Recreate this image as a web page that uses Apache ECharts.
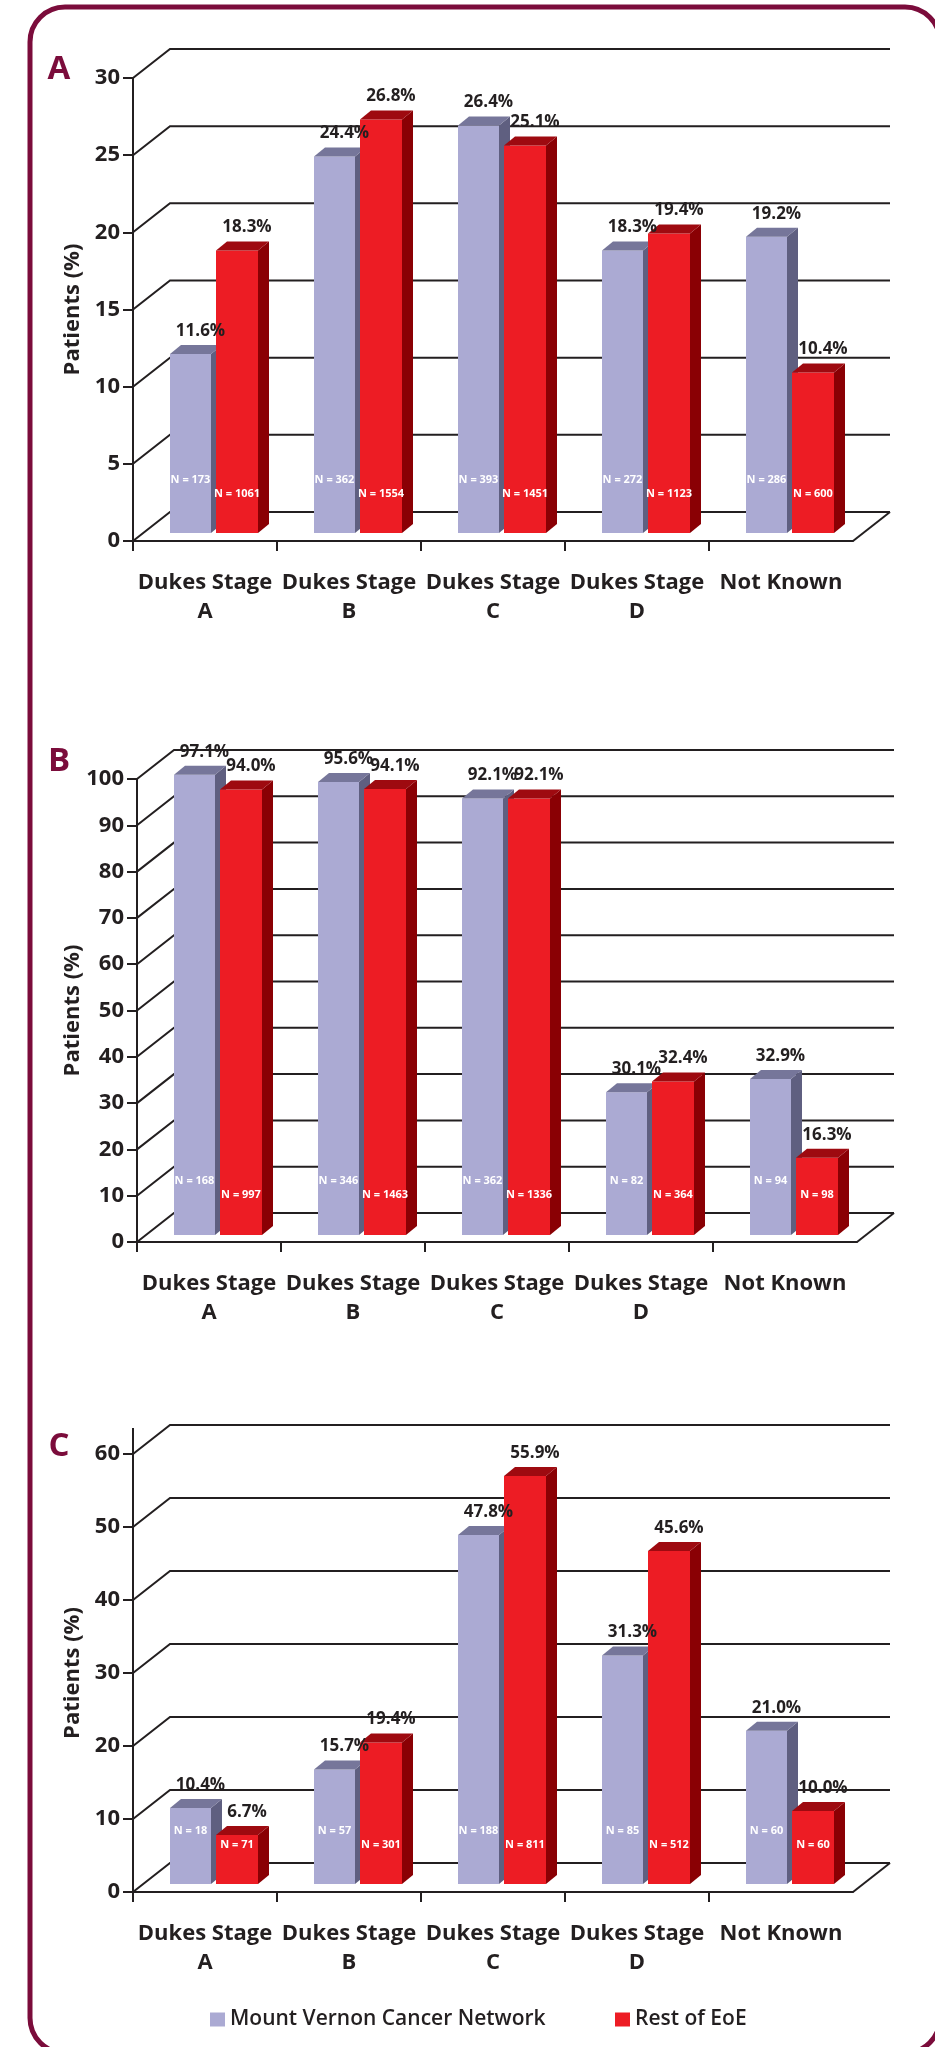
<!DOCTYPE html>
<html>
<head>
<meta charset="utf-8">
<script src="https://cdn.jsdelivr.net/npm/echarts@6/dist/echarts.min.js"></script>
<style>
  html, body { margin: 0; padding: 0; background: #fff; }
  #chart { width: 935px; height: 2047px; }
</style>
</head>
<body>
<div id="chart"></div>
<script>
const categories = ['Dukes Stage\nA', 'Dukes Stage\nB', 'Dukes Stage\nC', 'Dukes Stage\nD', 'Not Known'];
const nameMvcn = 'Mount Vernon Cancer Network';
const nameEoe = 'Rest of EoE';

// panel A
const ticksA = [0, 5, 10, 15, 20, 25, 30];
const mvcnA = [11.6, 24.4, 26.4, 18.3, 19.2];
const eoeA = [18.3, 26.8, 25.1, 19.4, 10.4];
const mvcnNA = [173, 362, 393, 272, 286];
const eoeNA = [1061, 1554, 1451, 1123, 600];

// panel B
const ticksB = [0, 10, 20, 30, 40, 50, 60, 70, 80, 90, 100];
const mvcnB = [97.1, 95.6, 92.1, 30.1, 32.9];
const eoeB = [94.0, 94.1, 92.1, 32.4, 16.3];
const mvcnNB = [168, 346, 362, 82, 94];
const eoeNB = [997, 1463, 1336, 364, 98];

// panel C
const ticksC = [0, 10, 20, 30, 40, 50, 60];
const mvcnC = [10.4, 15.7, 47.8, 31.3, 21.0];
const eoeC = [6.7, 19.4, 55.9, 45.6, 10.0];
const mvcnNC = [18, 57, 188, 85, 60];
const eoeNC = [71, 301, 811, 512, 60];

const INK = '#231f20';
const MAROON = '#7b0c3b';
const FONT = '"Open Sans"';
const DX = 37, DY = 29;      // depth of the back wall
const BDX = 11, BDY = 9;     // depth of a bar

const panels = [
  { letter: 'A', ticks: ticksA, mvcn: mvcnA, eoe: eoeA, nM: mvcnNA, nE: eoeNA,
    left: 133, top: 78, zero: 541, barMax: 30, lift: 8, ext: 0, ly: 70, gap: 49 },
  { letter: 'B', ticks: ticksB, mvcn: mvcnB, eoe: eoeB, nM: mvcnNB, nE: eoeNB,
    left: 137, top: 779, zero: 1242, barMax: 97.7, lift: 7, ext: 0, ly: 762, gap: 53 },
  { letter: 'C', ticks: ticksC, mvcn: mvcnC, eoe: eoeC, nM: mvcnNC, nE: eoeNC,
    left: 133, top: 1454, zero: 1892, barMax: 60, lift: 8, ext: 26, ly: 1447, gap: 49 }
];

const lineStyle = { fill: 'none', stroke: INK, lineWidth: 2 };

function wallRender(p) {
  return function (params, api) {
    const v = api.value(1);
    const bw = api.size([1, 0])[0];
    const a = api.coord([0, v]);
    const b = api.coord([categories.length - 1, v]);
    const xl = a[0] - bw / 2, xr = b[0] + bw / 2, y = a[1];
    const kids = [{
      type: 'polyline',
      shape: { points: [[xl, y], [xl + DX, y - DY], [xr + DX, y - DY]] },
      style: lineStyle
    }];
    if (v === 0) {
      kids.push({ type: 'line', shape: { x1: xr, y1: y, x2: xr + DX, y2: y - DY }, style: lineStyle });
      for (let k = 0; k < categories.length; k++) {
        const x = xl + k * bw;
        kids.push({ type: 'line', shape: { x1: x, y1: y, x2: x, y2: y + 10 }, style: lineStyle });
      }
    }
    if (v === p.ticks[p.ticks.length - 1] && p.ext) {
      kids.push({ type: 'line', shape: { x1: xl, y1: y, x2: xl, y2: y - p.ext }, style: lineStyle });
    }
    return { type: 'group', children: kids };
  };
}

// geometry of one bar, shared by the bar and its label series
function barBox(p, api, offset, width) {
  const cat = api.value(0), v = api.value(1);
  const bw = api.size([1, 0])[0];
  const base = api.coord([cat, 0]);
  const tp = api.coord([cat, v]);
  const x0 = base[0] - bw / 2 + offset;
  return { cat: cat, v: v, x0: x0, x1: x0 + width, yb: base[1] - p.lift, yt: tp[1] - p.lift, zero: base[1] };
}

function barRender(p, offset, width, face, side, cap) {
  return function (params, api) {
    const b = barBox(p, api, offset, width);
    return {
      type: 'group',
      children: [
        { type: 'rect', shape: { x: b.x0, y: b.yt, width: width, height: b.yb - b.yt }, style: { fill: face } },
        { type: 'polygon', shape: { points: [[b.x1, b.yt], [b.x1 + BDX, b.yt - BDY], [b.x1 + BDX, b.yb - BDY], [b.x1, b.yb]] }, style: { fill: side } },
        { type: 'polygon', shape: { points: [[b.x0, b.yt], [b.x0 + BDX, b.yt - BDY], [b.x1 + BDX, b.yt - BDY], [b.x1, b.yt]] }, style: { fill: cap } }
      ]
    };
  };
}

function labelRender(p, offset, width, nLift, nums) {
  return function (params, api) {
    const b = barBox(p, api, offset, width);
    return {
      type: 'group',
      children: [
        { type: 'text', x: b.x0 + width / 2, y: b.zero - nLift,
          style: { text: 'N = ' + nums[b.cat], fill: '#fff', font: 'bold 11px ' + FONT, align: 'center', verticalAlign: 'middle' } },
        { type: 'text', x: b.x0 + width / 2 + 10, y: b.yt - BDY - 14,
          style: { text: b.v.toFixed(1) + '%', fill: INK, font: 'bold 17px ' + FONT, align: 'center', verticalAlign: 'middle' } }
      ]
    };
  };
}

const grid = [], xAxis = [], yAxis = [], series = [], graphic = [];

panels.forEach(function (p, i) {
  const max = p.ticks[p.ticks.length - 1];
  grid.push({ left: p.left, top: p.top, width: 720, height: p.zero - p.top });
  xAxis.push({
    type: 'category', gridIndex: i, data: categories,
    axisLine: { lineStyle: { color: INK, width: 2 } },
    axisTick: { show: false },
    axisLabel: { color: INK, fontFamily: FONT, fontWeight: 'bold', fontSize: 22, lineHeight: 29, margin: 27, interval: 0 }
  });
  yAxis.push({
    type: 'value', gridIndex: i, min: 0, max: max, interval: p.ticks[1] - p.ticks[0],
    name: 'Patients (%)', nameLocation: 'middle', nameRotate: 90, nameGap: p.gap, nameMoveOverlap: false,
    nameTextStyle: { color: INK, fontFamily: FONT, fontWeight: 'bold', fontSize: 22 },
    axisLine: { show: true, lineStyle: { color: INK, width: 2 } },
    axisTick: { show: true, length: 10, lineStyle: { color: INK, width: 2 } },
    axisLabel: { color: INK, fontFamily: FONT, fontWeight: 'bold', fontSize: 22, margin: 13 },
    splitLine: { show: false }
  });
  yAxis.push({ type: 'value', gridIndex: i, min: 0, max: p.barMax, show: false, splitLine: { show: false } });

  const mData = p.mvcn.map(function (v, k) { return [k, v]; });
  const eData = p.eoe.map(function (v, k) { return [k, v]; });
  series.push({
    type: 'custom', name: 'wall' + p.letter, xAxisIndex: i, yAxisIndex: 2 * i,
    data: p.ticks.map(function (t) { return [0, t]; }),
    renderItem: wallRender(p), silent: true, z: 1
  });
  series.push({
    type: 'custom', name: nameMvcn, xAxisIndex: i, yAxisIndex: 2 * i + 1,
    itemStyle: { color: '#abaad3' }, data: mData,
    renderItem: barRender(p, 37, 41, '#abaad3', '#5f5f80', '#76769a'), z: 2
  });
  series.push({
    type: 'custom', name: nameEoe, xAxisIndex: i, yAxisIndex: 2 * i + 1,
    itemStyle: { color: '#ed1c24' }, data: eData,
    renderItem: barRender(p, 83, 42, '#ed1c24', '#8a0004', '#9e0a10'), z: 3
  });
  series.push({
    type: 'custom', name: 'labM' + p.letter, xAxisIndex: i, yAxisIndex: 2 * i + 1,
    data: mData, renderItem: labelRender(p, 37, 41, 61, p.nM), silent: true, z: 4
  });
  series.push({
    type: 'custom', name: 'labE' + p.letter, xAxisIndex: i, yAxisIndex: 2 * i + 1,
    data: eData, renderItem: labelRender(p, 83, 42, 47, p.nE), silent: true, z: 4
  });
  graphic.push({
    type: 'text', x: 59, y: p.ly,
    style: { text: p.letter, fill: MAROON, font: 'bold 33px ' + FONT, align: 'center', verticalAlign: 'middle' }
  });
});

graphic.push({
  type: 'rect', shape: { x: 30, y: 7, width: 910, height: 2046, r: 35 },
  style: { fill: null, stroke: MAROON, lineWidth: 5 }, z: -10
});

const chart = echarts.init(document.getElementById('chart'));
chart.setOption({
  animation: false,
  backgroundColor: '#fff',
  grid: grid,
  xAxis: xAxis,
  yAxis: yAxis,
  series: series,
  graphic: graphic,
  legend: [
    { data: [nameMvcn], left: 205, top: 2004, icon: 'rect', itemWidth: 15, itemHeight: 14,
      textStyle: { color: INK, fontFamily: FONT, fontWeight: 600, fontSize: 21 } },
    { data: [nameEoe], left: 610, top: 2004, icon: 'rect', itemWidth: 15, itemHeight: 14,
      textStyle: { color: INK, fontFamily: FONT, fontWeight: 600, fontSize: 21 } }
  ]
});
</script>
</body>
</html>
